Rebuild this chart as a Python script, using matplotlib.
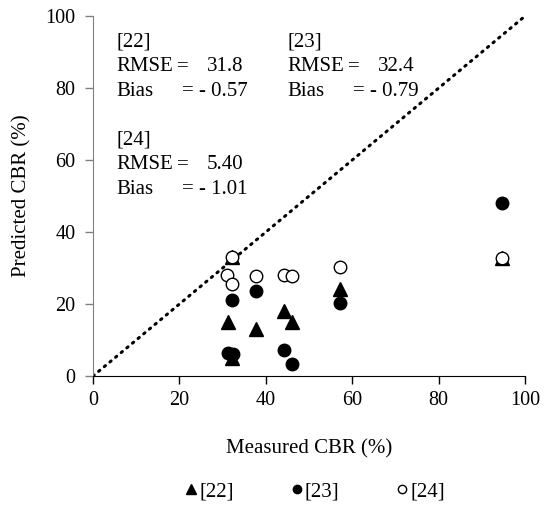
import matplotlib
import matplotlib.pyplot as plt
from matplotlib.lines import Line2D

matplotlib.use('Agg')

plt.rcParams['font.family'] = ['Liberation Serif', 'DejaVu Serif']
plt.rcParams['font.size'] = 15

# [22]
x22 = [32.1, 31.2, 37.7, 44.1, 46.0, 32.1, 57.2, 94.6]
y22 = [33.1, 15.1, 13.1, 18.1, 15.1, 4.9, 24.3, 32.8]
# [23]
x23 = [32.1, 37.7, 31.3, 32.5, 44.1, 46.0, 57.2, 94.6]
y23 = [21.1, 23.6, 6.5, 6.1, 7.2, 3.3, 20.2, 48.0]
# [24]
x24 = [32.1, 31.1, 32.2, 37.7, 44.1, 46.0, 57.2, 94.6]
y24 = [33.0, 28.1, 25.7, 27.8, 28.1, 27.8, 30.4, 32.7]

stats = {
    "[22]": ("31.8", "- 0.57"),
    "[23]": ("32.4", "- 0.79"),
    "[24]": ("5.40", "- 1.01"),
}

fig = plt.figure(figsize=(5.44, 5.05), dpi=100)
ax = fig.add_axes([0.171, 0.2554, 0.794, 0.7126])

ax.plot([0, 100], [0, 100], color="black", lw=2.2,
        linestyle=(0, (0.5, 1.9)), dash_capstyle="round", zorder=1)

ax.plot(x22, y22, linestyle="none", marker="^", ms=9.5, color="black",
        zorder=3)
ax.plot(x23, y23, linestyle="none", marker="o", ms=9, color="black",
        zorder=3)
ax.plot(x24, y24, linestyle="none", marker="o", ms=9, mfc="white",
        mec="black", mew=1.0, zorder=4)

ax.set_xlim(0, 100)
ax.set_ylim(0, 100)
ax.set_xticks([0, 20, 40, 60, 80, 100])
ax.set_yticks([0, 20, 40, 60, 80, 100])

for s in ["top", "right"]:
    ax.spines[s].set_visible(False)
ax.spines["left"].set_color("#808080")
ax.spines["bottom"].set_color("black")
ax.tick_params(direction="out", length=5.5, width=1.0, colors="black",
               labelsize=14.5)
ax.tick_params(axis="y", color="#808080", pad=7)
ax.tick_params(axis="x", pad=5)

ax.set_xlabel("Measured CBR (%)", labelpad=21)
ax.set_ylabel("Predicted CBR (%)", labelpad=10)

# annotation blocks
blocks = [("[22]", 5.5, 92.9), ("[23]", 45.1, 92.9), ("[24]", 5.5, 65.6)]
for name, bx, by in blocks:
    rmse, bias = stats[name]
    ax.text(bx, by, name, va="center", ha="left")
    ax.text(bx, by - 6.9, "RMSE", va="center", ha="left")
    ax.text(bx + 13.9, by - 6.9, "=", va="center", ha="left")
    ax.text(bx + 20.8, by - 6.9, rmse, va="center", ha="left")
    ax.text(bx, by - 13.8, "Bias", va="center", ha="left")
    ax.text(bx + 15.0, by - 13.8, "= " + bias, va="center", ha="left")

handles = [
    Line2D([], [], linestyle="none", marker="^", ms=7.5, color="black"),
    Line2D([], [], linestyle="none", marker="o", ms=6, color="black"),
    Line2D([], [], linestyle="none", marker="o", ms=6, mfc="white",
           mec="black", mew=1.0),
]
fig.legend(handles, ["[22]", "[23]", "[24]"], loc="center",
           bbox_to_anchor=(0.579, 0.026), ncol=3, frameon=False,
           handlelength=0.6, handletextpad=0.1, columnspacing=2.7)

fig.savefig("out.png", dpi=100)
plt.close()
